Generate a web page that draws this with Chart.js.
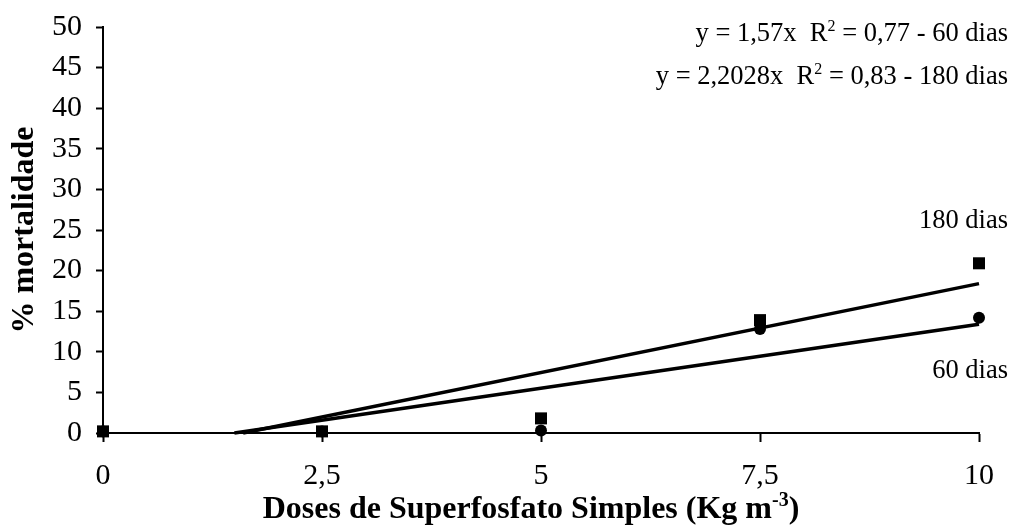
<!DOCTYPE html>
<html>
<head>
<meta charset="utf-8">
<script src="https://cdn.jsdelivr.net/npm/chart.js@4.4.0/dist/chart.umd.min.js"></script>
<style>
  html, body { margin:0; padding:0; background:#fff; }
  #wrap { width:1012px; height:530px; position:relative; }
</style>
</head>
<body>
<div id="wrap"><canvas id="mortChart"></canvas></div>
<script>
/* ------------------------------------------------------------
   Dados: % mortalidade x doses de superfosfato simples
   ------------------------------------------------------------ */
var doses = [0, 2.5, 5, 7.5, 10];
var mort60 = [0.2, 0.2, 0.3, 12.8, 14.2];
var mort180 = [0.2, 0.2, 1.8, 13.9, 20.9];

// linhas de tendencia (inicio onde cruzam o zero, fim em 10)
var trend60X = [1.5, 10];
var trend60Y = [0, 13.4];
var trend180X = [1.6, 10];
var trend180Y = [0, 18.4];

var yTicks = [0, 5, 10, 15, 20, 25, 30, 35, 40, 45, 50];
var xTicks = [0, 2.5, 5, 7.5, 10];

var eq60 = [['y = 1,57x  R', false], ['2', true], [' = 0,77 - 60 dias', false]];
var eq180 = [['y = 2,2028x  R', false], ['2', true], [' = 0,83 - 180 dias', false]];
var xTitle = [['Doses de Superfosfato Simples (Kg m', false], ['-3', true], [')', false]];
var yTitle = '% mortalidade';

function pts(xs, ys) {
  return xs.map(function(x, i) { return { x: x, y: ys[i] }; });
}

var SERIF = "'Liberation Serif', 'Times New Roman', serif";

/* ----------------------------------------------------------
   Texto com sobrescrito
   ---------------------------------------------------------- */
function drawRich(ctx, parts, x, y, size, weight, align) {
  var supSize = Math.round(size * 0.62);
  var widths = parts.map(function(p) {
    ctx.font = weight + ' ' + (p[1] ? supSize : size) + 'px ' + SERIF;
    return ctx.measureText(p[0]).width;
  });
  var total = widths.reduce(function(a, b) { return a + b; }, 0);
  var cx = align === 'right' ? x - total : (align === 'center' ? x - total / 2 : x);
  ctx.textAlign = 'left';
  ctx.textBaseline = 'alphabetic';
  parts.forEach(function(p, i) {
    ctx.font = weight + ' ' + (p[1] ? supSize : size) + 'px ' + SERIF;
    ctx.fillText(p[0], cx, p[1] ? y - size * 0.38 : y);
    cx += widths[i];
  });
}

var textPlugin = {
  id: 'textPlugin',
  afterDraw: function(chart) {
    var ctx = chart.ctx;
    var ys = chart.scales.y, area = chart.chartArea;
    ctx.save();
    ctx.fillStyle = '#000';
    drawRich(ctx, eq60, chart.width - 4, 41, 26.5, 'normal', 'right');
    drawRich(ctx, eq180, chart.width - 4, 84, 26.5, 'normal', 'right');
    drawRich(ctx, [['180 dias', false]], chart.width - 4, ys.getPixelForValue(26.5) + 10, 26.5, 'normal', 'right');
    drawRich(ctx, [['60 dias', false]], chart.width - 4, ys.getPixelForValue(8.0) + 10, 26.5, 'normal', 'right');
    drawRich(ctx, xTitle, (area.left + area.right) / 2 - 10, chart.height - 12, 32, 'bold', 'center');
    ctx.translate(22, (area.top + area.bottom) / 2);
    ctx.rotate(-Math.PI / 2);
    drawRich(ctx, [[yTitle, false]], 0, 11, 32, 'bold', 'center');
    ctx.restore();
  }
};

new Chart(document.getElementById('mortChart'), {
  type: 'scatter',
  data: {
    datasets: [
      { label: '180 dias', data: pts(doses, mort180), pointStyle: 'rect', pointRadius: 8.5, pointHoverRadius: 8.5, backgroundColor: '#000', borderColor: '#000', borderWidth: 0, clip: false },
      { label: '60 dias', data: pts(doses, mort60), pointStyle: 'circle', pointRadius: 6, pointHoverRadius: 6, backgroundColor: '#000', borderColor: '#000', borderWidth: 0, clip: false },
      { type: 'line', label: 'tend 180', data: pts(trend180X, trend180Y), borderColor: '#000', borderWidth: 3.5, pointRadius: 0, showLine: true, fill: false, clip: false },
      { type: 'line', label: 'tend 60', data: pts(trend60X, trend60Y), borderColor: '#000', borderWidth: 3.5, pointRadius: 0, showLine: true, fill: false, clip: false }
    ]
  },
  options: {
    responsive: true, maintainAspectRatio: false, animation: false,
    devicePixelRatio: 1,
    layout: { padding: { top: 27, right: 33, left: 0, bottom: 0 } },
    plugins: { legend: { display: false }, tooltip: { enabled: false } },
    scales: {
      x: {
        type: 'linear', min: 0, max: 10,
        afterBuildTicks: function(s) { s.ticks = xTicks.map(function(v) { return { value: v }; }); },
        afterFit: function(s) { s.height = 97; s.paddingLeft = 0; s.paddingRight = 0; },
        ticks: { color: '#000', font: { family: SERIF, size: 30 }, padding: 16, maxRotation: 0,
                 callback: function(v) { return String(v).replace('.', ','); } },
        grid: { display: true, drawOnChartArea: false, drawTicks: true, tickLength: 9, tickColor: '#000', tickWidth: 2 },
        border: { display: true, color: '#000', width: 2 }
      },
      y: {
        type: 'linear', min: 0, max: 50,
        afterBuildTicks: function(s) { s.ticks = yTicks.map(function(v) { return { value: v }; }); },
        afterFit: function(s) { s.width = 103; s.paddingTop = 0; s.paddingBottom = 0; },
        ticks: { color: '#000', font: { family: SERIF, size: 30 }, padding: 14 },
        grid: { display: true, drawOnChartArea: false, drawTicks: true, tickLength: 7, tickColor: '#000', tickWidth: 2 },
        border: { display: true, color: '#000', width: 2 }
      }
    }
  },
  plugins: [textPlugin]
});
</script>
</body>
</html>
